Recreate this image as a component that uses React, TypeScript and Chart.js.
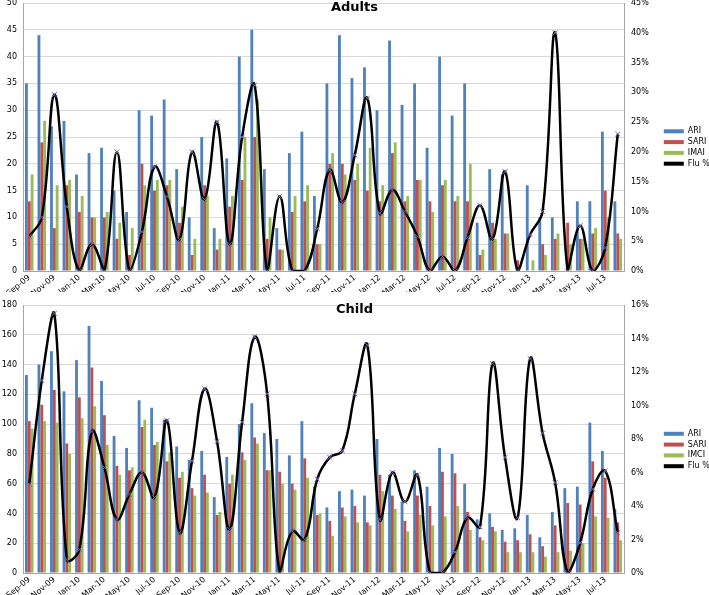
import React, { useEffect, useRef } from 'react';
import { Chart, registerables } from 'chart.js';

Chart.register(...registerables);
Chart.defaults.font.family = "'DejaVu Sans', sans-serif";

const months = [
  'Sep-09','Oct-09','Nov-09','Dec-09','Jan-10','Feb-10','Mar-10','Apr-10','May-10','Jun-10','Jul-10','Aug-10',
  'Sep-10','Oct-10','Nov-10','Dec-10','Jan-11','Feb-11','Mar-11','Apr-11','May-11','Jun-11','Jul-11','Aug-11',
  'Sep-11','Oct-11','Nov-11','Dec-11','Jan-12','Feb-12','Mar-12','Apr-12','May-12','Jun-12','Jul-12','Aug-12',
  'Sep-12','Oct-12','Nov-12','Dec-12','Jan-13','Feb-13','Mar-13','Apr-13','May-13','Jun-13','Jul-13','Aug-13',
];

// Adults
const adultARI = [35,44,27,28,18,22,23,15,11,30,29,32,19,10,25,8,21,40,45,19,8,22,26,14,35,44,36,38,30,43,31,35,23,40,29,35,9,19,18,0,16,10,10,0,13,13,26,13];
const adultSARI = [13,24,8,16,11,10,10,6,3,20,15,16,9,3,16,4,12,17,25,6,4,11,13,5,20,20,17,15,13,22,13,17,13,16,13,13,3,9,7,2,0,5,6,9,6,7,15,7];
const adultIMAI = [18,28,16,17,14,10,11,9,8,16,17,17,12,6,14,6,14,25,32,10,4,14,16,5,22,18,20,23,16,24,14,17,11,17,14,20,4,6,7,0,2,3,7,5,6,8,10,6];
const adultFlu = [5.8,9,29.6,10.8,0,4.5,0,20,0,6.6,17.5,12.5,5.3,20,12,25,4.5,22.5,31.2,0,12.5,0,0,7.1,17,11.5,19.5,29,9.7,13.6,10,5.8,0,2.4,0,5.6,11,5.3,16.7,0,6.1,10,40,0,7.6,0,3.9,23];

// Child
const childARI = [133,140,149,122,143,166,129,92,84,116,111,103,85,76,82,51,78,100,114,94,90,79,102,58,44,55,56,52,90,66,48,69,58,84,80,60,36,40,29,30,39,24,41,57,58,101,82,43];
const childSARI = [102,113,123,87,118,138,106,72,69,98,86,75,64,57,66,39,60,81,91,69,68,60,77,39,35,44,45,34,66,52,35,52,45,68,67,41,24,31,21,22,26,18,32,47,46,75,64,34];
const childIMCI = [97,102,101,80,104,112,86,66,71,103,88,81,68,52,54,41,66,76,87,69,60,56,64,40,25,38,34,32,55,43,28,39,32,38,45,29,22,28,14,14,14,11,14,15,20,38,37,22];
const childFlu = [5.3,11.5,15.5,0.8,1.4,8.45,6.3,3.2,4.7,6,4.5,9.1,2.4,6.7,11,7.85,2.6,9,14.1,10.7,0,2.5,2,5.6,6.9,7.3,10.7,13.6,3.2,6,4.25,5.85,0,0,1.25,3.3,2.75,12.5,6.9,3.3,12.8,8.35,5.4,0,1.8,5,6.1,2.4];

const BLUE = '#4F81BD';
const RED = '#C0504D';
const GREEN = '#9BBB59';
const PURPLE = '#8064A2';
const AXIS = '#a6a6a6';
const GRID = '#d9d9d9';

type PanelProps = {
  title: string;
  ari: number[];
  sari: number[];
  third: number[];
  thirdLabel: string;
  flu: number[];
  leftMax: number;
  leftStep: number;
  rightMax: number;
  rightStep: number;
  top: number;
  height: number;
  xHeight: number;
};

function Panel(p: PanelProps) {
  const ref = useRef<HTMLCanvasElement>(null);
  useEffect(() => {
    const barCommon = { type: 'bar' as const, yAxisID: 'y', order: 1, categoryPercentage: 0.68, barPercentage: 1, borderWidth: 0 };
    const chart = new Chart(ref.current!, {
      type: 'bar',
      data: {
        labels: months,
        datasets: [
          { ...barCommon, label: 'ARI', data: p.ari, backgroundColor: BLUE },
          { ...barCommon, label: 'SARI', data: p.sari, backgroundColor: RED },
          { ...barCommon, label: p.thirdLabel, data: p.third, backgroundColor: GREEN },
          {
            type: 'line', label: 'Flu %', data: p.flu, yAxisID: 'y2', order: 0,
            borderColor: '#000', backgroundColor: '#000', borderWidth: 2.5, tension: 0.4,
            pointStyle: 'crossRot', pointRadius: 3.5, pointBorderColor: PURPLE,
            pointBackgroundColor: PURPLE, pointBorderWidth: 1,
          } as any,
        ],
      },
      options: {
        animation: false,
        responsive: false,
        layout: { padding: { top: 13, left: 0, right: 0, bottom: 0 } },
        plugins: {
          title: {
            display: true, text: p.title, color: '#000',
            font: { size: 13, weight: 'bold' },
            padding: { top: -3, bottom: -12.6 },
          },
          tooltip: { enabled: false },
          legend: {
            position: 'right',
            maxWidth: 48,
            labels: {
              boxWidth: 20, boxHeight: 4, padding: 2.8, color: '#000',
              font: { size: 8 },
              sort: (a: any, b: any) => a.datasetIndex - b.datasetIndex,
              generateLabels: (c: any) => {
                const items = Chart.defaults.plugins.legend.labels.generateLabels(c);
                items.forEach((it: any) => {
                  if (it.text === 'Flu %') { it.fillStyle = '#000'; it.strokeStyle = '#000'; it.lineWidth = 0; }
                });
                return items;
              },
            },
          },
        },
        scales: {
          x: {
            grid: { display: false, drawTicks: false },
            border: { color: AXIS },
            ticks: {
              autoSkip: false, maxRotation: 40, minRotation: 40, padding: 2,
              color: '#000', font: { size: 8 },
              callback: function (this: any, v: any, i: number) { return i % 2 === 0 ? this.getLabelForValue(v) : ''; },
            },
            afterFit: (s: any) => { s.height = p.xHeight; },
          },
          y: {
            position: 'left', min: 0, max: p.leftMax,
            grid: { color: GRID, drawTicks: false },
            border: { color: AXIS },
            ticks: { stepSize: p.leftStep, padding: 6, color: '#000', font: { size: 8 } },
            afterFit: (s: any) => { s.width = 23; },
          },
          y2: {
            position: 'right', min: 0, max: p.rightMax,
            grid: { display: false, drawTicks: false },
            border: { display: true, color: AXIS },
            ticks: { stepSize: p.rightStep, padding: 7, color: '#000', font: { size: 8 }, callback: (v: any) => v + '%' },
            afterFit: (s: any) => { s.width = 37; },
          },
        },
      } as any,
    });
    return () => chart.destroy();
  }, []);
  return (
    <div style={{ position: 'absolute', left: 0, top: p.top, width: 709, height: p.height }}>
      <canvas ref={ref} width={709} height={p.height} style={{ display: 'block' }} />
    </div>
  );
}

export default function App() {
  return (
    <div style={{ position: 'absolute', left: 0, top: 0, width: 709, height: 595, overflow: 'hidden', background: '#fff' }}>
      <Panel title="Adults" ari={adultARI} sari={adultSARI} third={adultIMAI} thirdLabel="IMAI" flu={adultFlu}
        leftMax={50} leftStep={5} rightMax={45} rightStep={5} top={-10} height={302} xHeight={21} />
      <Panel title="Child" ari={childARI} sari={childSARI} third={childIMCI} thirdLabel="IMCI" flu={childFlu}
        leftMax={180} leftStep={20} rightMax={16} rightStep={2} top={292} height={303} xHeight={22} />
    </div>
  );
}
